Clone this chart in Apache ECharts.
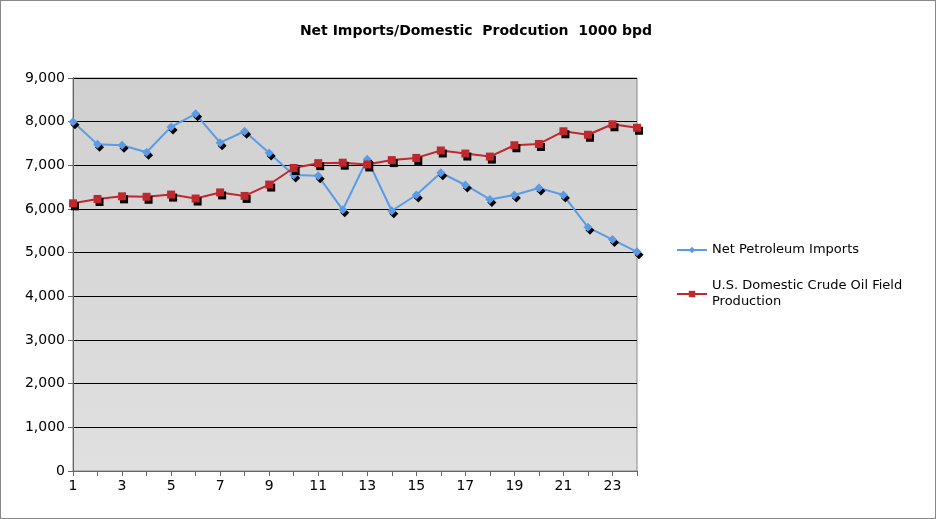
<!DOCTYPE html><html><head><meta charset="utf-8"><script src="https://cdn.jsdelivr.net/npm/echarts@6/dist/echarts.min.js"></script>
<style>body{margin:0}#c{width:936px;height:519px;box-sizing:border-box;border:1px solid #888}</style></head><body><div id="c"></div><script>
const categories=Array.from({length:24},(_,i)=>String(i+1));
const imports=[8000,7480,7460,7300,7880,8180,7520,7780,7280,6780,6760,5980,7140,5960,6320,6830,6550,6220,6320,6480,6320,5580,5300,5020];
const production=[6130,6230,6290,6280,6330,6240,6380,6300,6560,6940,7050,7060,7020,7120,7170,7340,7270,7200,7460,7490,7780,7700,7940,7860];
const f="Verdana, DejaVu Sans, sans-serif";
const ch=echarts.init(document.getElementById('c'));
ch.setOption({animation:false,
title:{text:'Net Imports/Domestic  Prodcution  1000 bpd',left:470,top:18,textAlign:'center',textStyle:{fontFamily:f,fontSize:14,fontWeight:'bold',color:'#000'}},
grid:{left:72,top:77,width:564,height:393,show:true,borderColor:'#888',borderWidth:1,
backgroundColor:{type:'linear',x:0,y:0,x2:0,y2:1,colorStops:[{offset:0,color:'#d0d0d0'},{offset:1,color:'#e0e0e0'}]}},
legend:{orient:'vertical',left:'670',top:'236',itemGap:20,itemWidth:30,itemHeight:8,
textStyle:{fontFamily:f,fontSize:13,color:'#000',width:230,overflow:'break',lineHeight:16},
data:['Net Petroleum Imports','U.S. Domestic Crude Oil Field Production']},
xAxis:{type:'category',data:categories,boundaryGap:false,axisLine:{lineStyle:{color:'#666'}},axisTick:{interval:0,lineStyle:{color:'#666'}},
axisLabel:{interval:1,fontFamily:f,fontSize:14,color:'#000'}},
yAxis:{type:'value',min:0,max:9000,interval:1000,axisLine:{show:true,lineStyle:{color:'#666'}},axisTick:{show:true},
splitLine:{lineStyle:{color:'#000'}},axisLabel:{fontFamily:f,fontSize:14,color:'#000',formatter:v=>v.toLocaleString('en-US')}},
series:[
{name:'Net Petroleum Imports',type:'line',data:imports,symbol:'diamond',symbolSize:9,color:'#5a9be8',lineStyle:{width:2,color:'#5a9be8'},
itemStyle:{color:'#5a9be8',shadowColor:'#000',shadowOffsetX:2,shadowOffsetY:3,shadowBlur:0}},
{name:'U.S. Domestic Crude Oil Field Production',type:'line',data:production,symbol:'rect',symbolSize:8,color:'#c0282d',lineStyle:{width:2,color:'#c0282d'},
itemStyle:{color:'#c0282d',shadowColor:'#000',shadowOffsetX:2,shadowOffsetY:3,shadowBlur:0}}
]});
</script></body></html>
